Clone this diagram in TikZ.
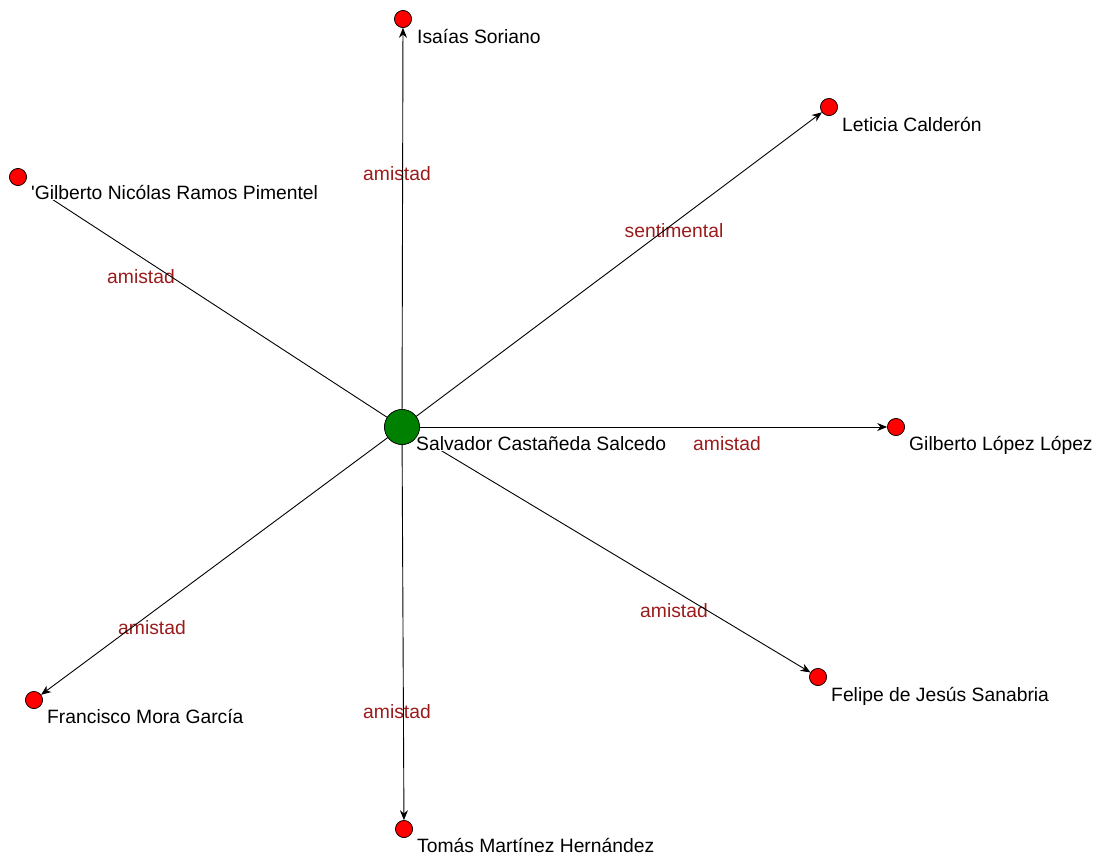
\documentclass[tikz,border=0pt]{standalone}
\usepackage{fontspec}
\setmainfont{Liberation Sans}
\usetikzlibrary{arrows.meta}
\definecolor{egogreen}{RGB}{0,128,0}
\definecolor{tiered}{RGB}{155,27,27}
\tikzset{
  actor/.style={circle,draw=black,fill=red,line width=0.6pt,minimum size=17pt,inner sep=0pt},
  ego/.style={circle,draw=black,fill=egogreen,line width=0.6pt,minimum size=35pt,inner sep=0pt},
  tie/.style={->,line width=0.9pt},
  actorname/.style={anchor=base west,fill=white,inner sep=1pt},
  tiekind/.style={anchor=base,text=tiered,inner sep=0pt}
}
\begin{document}
\begin{tikzpicture}[x=1pt,y=-1pt,line join=round,line cap=round,>={Stealth[length=10pt,width=8pt]},font=\fontsize{19.3}{22}\selectfont]
  \useasboundingbox (0,0) rectangle (1101,854);
  % relation labels (under the ties)
  \node[tiekind] (kIsaias) at (397,180) {amistad};
  \node[tiekind] (kLeticia) at (674,237) {sentimental};
  \node[tiekind] (kGilbertoN) at (141,283) {amistad};
  \node[tiekind] (kGilbertoL) at (727,450) {amistad};
  \node[tiekind] (kFelipe) at (674,617) {amistad};
  \node[tiekind] (kFrancisco) at (152,634) {amistad};
  \node[tiekind] (kTomas) at (397,718) {amistad};
  % actors
  \coordinate (cSalvador) at (402,427);
  \coordinate (cIsaias) at (403,19);
  \coordinate (cLeticia) at (829,107);
  \coordinate (cGilbertoN) at (18,177);
  \coordinate (cGilbertoL) at (896,427);
  \coordinate (cFelipe) at (818,677);
  \coordinate (cTomas) at (404,829);
  \coordinate (cFrancisco) at (34,700);
  \path (cSalvador) node[ego] (salvador) {}
        (cIsaias) node[actor] (isaias) {}
        (cLeticia) node[actor] (leticia) {}
        (cGilbertoN) node[actor] (gilbertoN) {}
        (cGilbertoL) node[actor] (gilbertoL) {}
        (cFelipe) node[actor] (felipe) {}
        (cTomas) node[actor] (tomas) {}
        (cFrancisco) node[actor] (francisco) {};
  % ties
  \draw[tie] (salvador) -- (isaias);
  \draw[tie] (salvador) -- (leticia);
  \draw[tie,-,shorten >=8pt] (salvador) -- (gilbertoN);
  \draw[tie] (salvador) -- (gilbertoL);
  \draw[tie] (salvador) -- (felipe);
  \draw[tie] (salvador) -- (tomas);
  \draw[tie] (salvador) -- (francisco);
  % names
  \node[actorname] (nSalvador) at (415,450) {Salvador Castañeda Salcedo};
  \node[actorname] (nIsaias) at (416,43) {Isaías Soriano};
  \node[actorname] (nLeticia) at (841,131) {Leticia Calderón};
  \node[actorname] (nGilbertoN) at (30,199) {\textquotesingle Gilberto Nicólas Ramos Pimentel};
  \node[actorname] (nGilbertoL) at (908,450) {Gilberto López López};
  \node[actorname] (nFelipe) at (830,701) {Felipe de Jesús Sanabria};
  \node[actorname] (nTomas) at (416,852) {Tomás Martínez Hernández};
  \node[actorname] (nFrancisco) at (46,723) {Francisco Mora García};
  % circles again on top of the name boxes
  \node[ego] at (cSalvador) {};
  \foreach \who in {Isaias,Leticia,GilbertoN,GilbertoL,Felipe,Tomas,Francisco}
    \node[actor] at (c\who) {};
\end{tikzpicture}
\end{document}
